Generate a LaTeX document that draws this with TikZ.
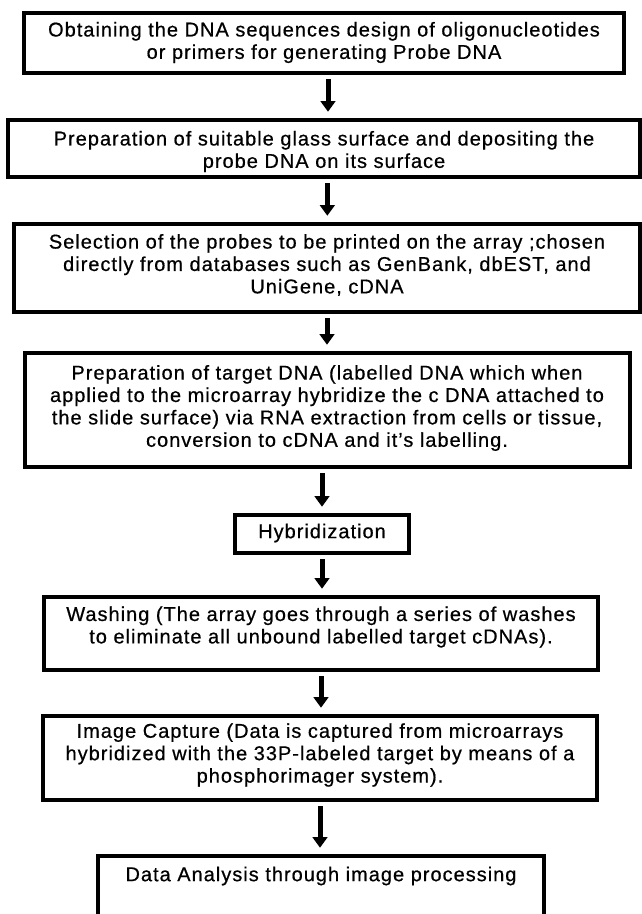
\documentclass[tikz,border=0pt]{standalone}
\usepackage{fontspec}
\setmainfont{Liberation Sans}[LetterSpace=5.0,FakeBold=0.6]
\usetikzlibrary{arrows.meta}

\tikzset{every picture/.style={line width=0.75pt}}
\tikzset{
  stepbox/.style={draw, line width=2.4pt, inner sep=0pt},
  steptext/.style={inner sep=0pt, align=center, font=\fontsize{15}{16.8}\selectfont},
  flow/.style={line width=3.75pt, -{Triangle[width=11pt,length=8pt]}, shorten <=3.5pt, shorten >=5pt}
}

\begin{document}
\begin{tikzpicture}[x=0.75pt,y=0.75pt,yscale=-1,xscale=1]
%set diagram size 642 x 914
\clip (0,0) rectangle (642,914);

%Shape: Rectangle [id:obtain]
\node [stepbox, minimum width=450pt, minimum height=45pt] (obtain) at (324,43) {};
%Shape: Rectangle [id:glass]
\node [stepbox, minimum width=474pt, minimum height=42.75pt] (glass) at (324,148.5) {};
%Shape: Rectangle [id:select]
\node [stepbox, minimum width=469.5pt, minimum height=66pt] (select) at (327,268) {};
%Shape: Rectangle [id:target]
\node [stepbox, minimum width=453.75pt, minimum height=85.5pt] (target) at (327.5,410) {};
%Shape: Rectangle [id:hybrid]
\node [stepbox, minimum width=130.5pt, minimum height=28.5pt] (hybrid) at (322,534) {};
%Shape: Rectangle [id:wash]
\node [stepbox, minimum width=415.5pt, minimum height=54.75pt] (wash) at (321,633.5) {};
%Shape: Rectangle [id:capture]
\node [stepbox, minimum width=415.5pt, minimum height=63pt] (capture) at (320,758) {};
%Shape: Rectangle [id:analysis] (runs off the bottom edge)
\node [stepbox, minimum width=334.5pt, minimum height=78pt] (analysis) at (321,908) {};

%Straight Lines [arrows]
\draw [flow] ([xshift=3pt]obtain.south) -- ([xshift=3pt]obtain.south |- glass.north);
\draw [flow] ([xshift=2.5pt]glass.south) -- ([xshift=2.5pt]glass.south |- select.north);
\draw [flow] (select.south) -- (select.south |- target.north);
\draw [flow] (target.south -| hybrid.north) -- (hybrid.north);
\draw [flow] (hybrid.south) -- (hybrid.south |- wash.north);
\draw [flow] (wash.south) -- (wash.south |- capture.north);
\draw [flow] (capture.south) -- (capture.south |- analysis.north);

% Text Node
\node [steptext] (obtaintxt) at (324,42.5) {Obtaining the DNA sequences design of oligonucleotides\\or primers for generating Probe DNA};
% Text Node
\node [steptext] (glasstxt) at (324,151.5) {Preparation of suitable glass surface and depositing the\\probe DNA on its surface};
% Text Node
\node [steptext] (selecttxt) at (327,265) {Selection of the probes to be printed on the array ;chosen\\directly from databases such as GenBank, dbEST, and\\UniGene, cDNA};
% Text Node
\node [steptext] (targettxt) at (327,408) {Preparation of target DNA (labelled DNA which when\\applied to the microarray hybridize the c DNA attached to\\the slide surface) via RNA extraction from cells or tissue,\\conversion to cDNA and it's labelling.};
% Text Node
\node [steptext] (hybridtxt) at (322,533) {Hybridization};
% Text Node
\node [steptext] (washtxt) at (321,627) {Washing (The array goes through a series of washes\\to eliminate all unbound labelled target cDNAs).};
% Text Node
\node [steptext] (capturetxt) at (320,755) {Image Capture (Data is captured from microarrays\\hybridized with the 33P-labeled target by means of a\\phosphorimager system).};
% Text Node
\node [steptext] (analysistxt) at (321,876) {Data Analysis through image processing};
\end{tikzpicture}
\end{document}
